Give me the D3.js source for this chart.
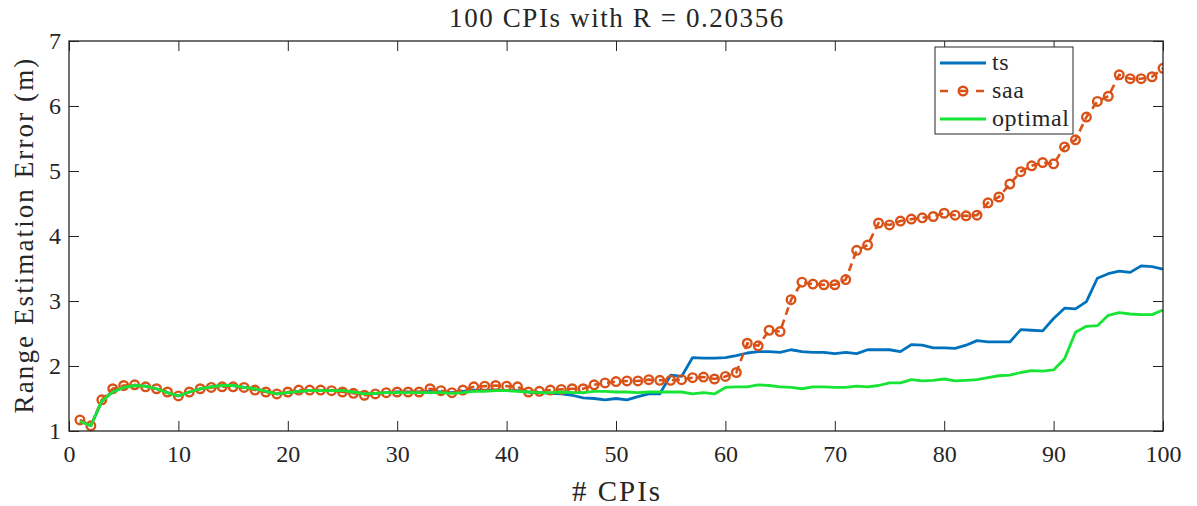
<!DOCTYPE html>
<html>
<head>
<meta charset="utf-8">
<title>Range Estimation Error</title>
<script src="https://d3js.org/d3.v7.min.js"></script>
<style>
  body { margin: 0; background: #fff; }
</style>
</head>
<body>
<svg id="chart"></svg>
<script>

// values, x = 1..100
var xTicks = [0, 10, 20, 30, 40, 50, 60, 70, 80, 90, 100]
var yTicks = [1, 2, 3, 4, 5, 6, 7]

var ts = [
  1.15, 1.08, 1.46, 1.61, 1.67, 1.70, 1.69, 1.65, 1.59, 1.54,
  1.60, 1.65, 1.68, 1.70, 1.70, 1.67, 1.65, 1.61, 1.57, 1.59,
  1.61, 1.62, 1.62, 1.62, 1.62, 1.60, 1.57, 1.58, 1.59, 1.60,
  1.60, 1.60, 1.61, 1.60, 1.59, 1.61, 1.63, 1.63, 1.63, 1.62,
  1.62, 1.60, 1.59, 1.58, 1.57, 1.55, 1.51, 1.50, 1.48, 1.50,
  1.48, 1.53, 1.57, 1.57, 1.86, 1.84, 2.13, 2.12, 2.12, 2.13,
  2.16, 2.20, 2.22, 2.22, 2.21, 2.25, 2.22, 2.21, 2.21, 2.19,
  2.21, 2.19, 2.25, 2.25, 2.25, 2.22, 2.33, 2.32, 2.28, 2.28,
  2.27, 2.32, 2.39, 2.37, 2.37, 2.37, 2.56, 2.55, 2.54, 2.73,
  2.89, 2.88, 2.99, 3.35, 3.42, 3.46, 3.44, 3.54, 3.53, 3.49
]

var saa = [
  1.17, 1.08, 1.48, 1.65, 1.70, 1.71, 1.68, 1.65, 1.60, 1.54,
  1.60, 1.65, 1.67, 1.68, 1.68, 1.67, 1.63, 1.60, 1.57, 1.60,
  1.63, 1.63, 1.63, 1.62, 1.60, 1.58, 1.55, 1.57, 1.59, 1.60,
  1.60, 1.60, 1.65, 1.62, 1.59, 1.63, 1.68, 1.69, 1.70, 1.69,
  1.68, 1.60, 1.61, 1.63, 1.64, 1.65, 1.65, 1.71, 1.74, 1.76,
  1.77, 1.77, 1.79, 1.78, 1.78, 1.79, 1.82, 1.83, 1.80, 1.84,
  1.90, 2.35, 2.31, 2.55, 2.53, 3.02, 3.29, 3.26, 3.25, 3.25,
  3.33, 3.78, 3.86, 4.20, 4.17, 4.23, 4.26, 4.28, 4.30, 4.35,
  4.32, 4.31, 4.32, 4.51, 4.60, 4.80, 4.99, 5.08, 5.13, 5.11,
  5.37, 5.48, 5.83, 6.07, 6.15, 6.48, 6.42, 6.42, 6.45, 6.58
]

var optimal = [
  1.15, 1.08, 1.46, 1.60, 1.67, 1.70, 1.69, 1.65, 1.59, 1.54,
  1.60, 1.65, 1.68, 1.70, 1.70, 1.67, 1.65, 1.61, 1.57, 1.59,
  1.61, 1.62, 1.62, 1.62, 1.62, 1.60, 1.57, 1.58, 1.59, 1.59,
  1.59, 1.59, 1.59, 1.59, 1.58, 1.59, 1.61, 1.61, 1.62, 1.62,
  1.61, 1.60, 1.59, 1.59, 1.60, 1.59, 1.59, 1.61, 1.61, 1.60,
  1.60, 1.59, 1.60, 1.60, 1.60, 1.60, 1.57, 1.59, 1.57, 1.67,
  1.68, 1.68, 1.71, 1.70, 1.68, 1.67, 1.65, 1.68, 1.68, 1.67,
  1.67, 1.69, 1.68, 1.70, 1.74, 1.74, 1.79, 1.77, 1.78, 1.80,
  1.77, 1.78, 1.79, 1.82, 1.85, 1.86, 1.90, 1.93, 1.92, 1.94,
  2.11, 2.52, 2.61, 2.62, 2.78, 2.82, 2.80, 2.79, 2.79, 2.86
]

var seriesNames = ['ts', 'saa', 'optimal']
var seriesColors = ['#0072bd', '#d95319', '#17e434']

var W = 1197, H = 506
var margin = {left: 69, right: 34, top: 41, bottom: 75}
var serif = "'Liberation Serif'"

var svg = d3.select('#chart')
  .attr('width', W)
  .attr('height', H)

var x = d3.scaleLinear().domain([0, 100]).range([margin.left, W - margin.right])
var y = d3.scaleLinear().domain([1, 7]).range([H - margin.bottom, margin.top])

var axisColor = '#262626'
var tickLen = 10

// plot clip
svg.append('clipPath').attr('id', 'clip')
  .append('rect')
  .attr('x', x(0) - 8).attr('y', y(7))
  .attr('width', x(100) - x(0) + 8).attr('height', y(1) - y(7) + 8)

// axes with inward ticks, mirrored (box on)
function styleAxis(g) {
  g.attr('font-family', null)
  g.select('.domain').remove()
  g.selectAll('.tick line').attr('stroke', axisColor).attr('stroke-width', 1)
  g.selectAll('.tick text')
    .style('font-family', serif)
    .style('font-size', '24px')
    .attr('fill', axisColor)
}

svg.append('g')
  .attr('transform', 'translate(0,' + y(1) + ')')
  .call(d3.axisBottom(x).tickValues(xTicks).tickFormat(d3.format('d')).tickSizeInner(-tickLen).tickSizeOuter(0).tickPadding(14))
  .call(styleAxis)

svg.append('g')
  .attr('transform', 'translate(0,' + y(7) + ')')
  .call(d3.axisTop(x).tickValues(xTicks).tickSizeInner(-tickLen).tickSizeOuter(0).tickFormat(''))
  .call(styleAxis)

svg.append('g')
  .attr('transform', 'translate(' + x(0) + ',0)')
  .call(d3.axisLeft(y).tickValues(yTicks).tickFormat(d3.format('d')).tickSizeInner(-tickLen).tickSizeOuter(0).tickPadding(8))
  .call(styleAxis)

svg.append('g')
  .attr('transform', 'translate(' + x(100) + ',0)')
  .call(d3.axisRight(y).tickValues(yTicks).tickSizeInner(-tickLen).tickSizeOuter(0).tickFormat(''))
  .call(styleAxis)

// series
var line = d3.line()
  .x((d, i) => x(i + 1))
  .y((d) => y(d))

var plot = svg.append('g').attr('clip-path', 'url(#clip)')

plot.append('path')
  .datum(ts)
  .attr('d', line)
  .attr('fill', 'none')
  .attr('stroke', seriesColors[0])
  .attr('stroke-width', 2.8)
  .attr('stroke-linejoin', 'round')

plot.append('path')
  .datum(saa)
  .attr('d', line)
  .attr('fill', 'none')
  .attr('stroke', seriesColors[1])
  .attr('stroke-width', 2.6)
  .attr('stroke-dasharray', '8,5')

plot.selectAll('.saaMarker')
  .data(saa)
  .enter()
  .append('circle')
  .classed('saaMarker', true)
  .attr('cx', (d, i) => x(i + 1))
  .attr('cy', (d) => y(d))
  .attr('r', 4.3)
  .attr('fill', 'none')
  .attr('stroke', seriesColors[1])
  .attr('stroke-width', 2.4)

plot.append('path')
  .datum(optimal)
  .attr('d', line)
  .attr('fill', 'none')
  .attr('stroke', seriesColors[2])
  .attr('stroke-width', 2.8)
  .attr('stroke-linejoin', 'round')

svg.append('rect')
  .attr('x', x(0)).attr('y', y(7))
  .attr('width', x(100) - x(0)).attr('height', y(1) - y(7))
  .attr('fill', 'none')
  .attr('stroke', axisColor)
  .attr('stroke-width', 1.3)

// title and labels
svg.append('text')
  .attr('x', (x(0) + x(100)) / 2 + 1)
  .attr('y', 27)
  .attr('text-anchor', 'middle')
  .style('font-family', serif)
  .style('font-size', '27px')
  .style('letter-spacing', '1.6px')
  .attr('fill', axisColor)
  .text('100 CPIs with R = 0.20356')

svg.append('text')
  .attr('x', (x(0) + x(100)) / 2 + 1)
  .attr('y', 501)
  .attr('text-anchor', 'middle')
  .style('font-family', serif)
  .style('font-size', '29px')
  .style('letter-spacing', '2px')
  .attr('fill', axisColor)
  .text('# CPIs')

svg.append('text')
  .attr('transform', 'translate(33,' + ((y(1) + y(7)) / 2 - 1) + ') rotate(-90)')
  .attr('text-anchor', 'middle')
  .style('font-family', serif)
  .style('font-size', '27px')
  .style('letter-spacing', '2.1px')
  .attr('fill', axisColor)
  .text('Range Estimation Error (m)')

// legend
var lg = svg.append('g').attr('transform', 'translate(935,47)')
lg.append('rect')
  .attr('width', 138).attr('height', 87)
  .attr('fill', '#fff')
  .attr('stroke', axisColor)
  .attr('stroke-width', 1)

seriesNames.forEach((name, i) => {
  var cy = 16 + i * 28
  var item = lg.append('g')
  item.append('line')
    .attr('x1', 5).attr('x2', 51)
    .attr('y1', cy).attr('y2', cy)
    .attr('stroke', seriesColors[i])
    .attr('stroke-width', i === 1 ? 2.6 : 2.8)
    .attr('stroke-dasharray', i === 1 ? '8,10' : null)
  if (i === 1) {
    item.append('circle')
      .attr('cx', 28).attr('cy', cy).attr('r', 4.3)
      .attr('fill', 'none')
      .attr('stroke', seriesColors[i])
      .attr('stroke-width', 2.4)
  }
  item.append('text')
    .attr('x', 57).attr('y', cy + 7)
    .style('font-family', serif)
    .style('font-size', '24px')
    .style('letter-spacing', '0.6px')
    .attr('fill', axisColor)
    .text(name)
})

</script>
</body>
</html>
